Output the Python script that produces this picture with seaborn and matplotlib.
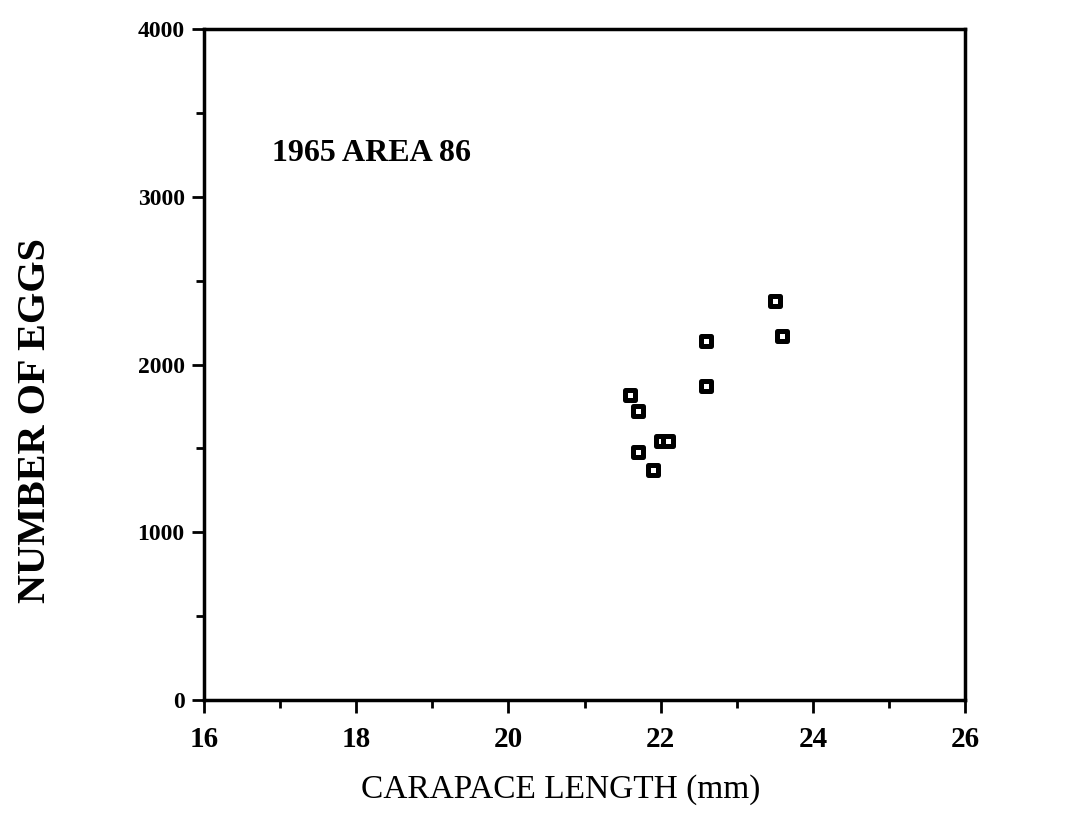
import matplotlib
matplotlib.use("Agg")

import pandas as pd
import matplotlib.pyplot as plt
import seaborn as sns
from matplotlib.ticker import MultipleLocator

# Data (1965, area 86)
carapace_mm = [21.6, 21.7, 22.6, 22.6, 23.5, 23.6, 22.0, 22.1, 21.7, 21.9]
num_eggs = [1820, 1725, 2140, 1870, 2380, 2170, 1545, 1545, 1480, 1370]

df = pd.DataFrame({"Carapace": carapace_mm, "Eggs": num_eggs})

sns.set_style("ticks")
plt.rcParams["font.family"] = ["Liberation Serif", "DejaVu Serif"]
plt.rcParams["text.color"] = "black"
plt.rcParams["axes.labelcolor"] = "black"
plt.rcParams["xtick.color"] = "black"
plt.rcParams["ytick.color"] = "black"

fig = plt.figure(figsize=(10.7, 8.25), dpi=100)
ax = fig.add_axes([0.1907, 0.1515, 0.7112, 0.8133])

sns.scatterplot(
    data=df, x="Carapace", y="Eggs",
    marker="s", s=42, facecolor="white", edgecolor="black",
    linewidth=3.6, ax=ax, zorder=3
)

ax.set_xlim(16, 26)
ax.set_ylim(0, 4000)
ax.xaxis.set_major_locator(MultipleLocator(2))
ax.xaxis.set_minor_locator(MultipleLocator(1))
ax.yaxis.set_major_locator(MultipleLocator(1000))
ax.yaxis.set_minor_locator(MultipleLocator(500))

for sp in ax.spines.values():
    sp.set_linewidth(2.5)
    sp.set_color("black")

ax.tick_params(axis="x", which="major", direction="out", length=9, width=2,
               pad=10, labelsize=21)
ax.tick_params(axis="x", which="minor", direction="out", length=6, width=2)
ax.tick_params(axis="y", which="major", direction="out", length=9, width=2,
               pad=5, labelsize=17)
ax.tick_params(axis="y", which="minor", direction="out", length=6, width=2)
for lbl in ax.get_xticklabels() + ax.get_yticklabels():
    lbl.set_fontweight("bold")

ax.set_xlabel("CARAPACE LENGTH (mm)", fontsize=24, va="center")
ax.set_ylabel("NUMBER OF EGGS", fontsize=29, fontweight="bold", va="center")
ax.xaxis.set_label_coords(0.468, -0.134)
ax.yaxis.set_label_coords(-0.222, 0.416)

ax.text(0.089, 0.815, "1965 AREA 86", transform=ax.transAxes,
        fontsize=23, fontweight="bold", va="center", ha="left")

fig.savefig("out.png", dpi=100, facecolor="white")
